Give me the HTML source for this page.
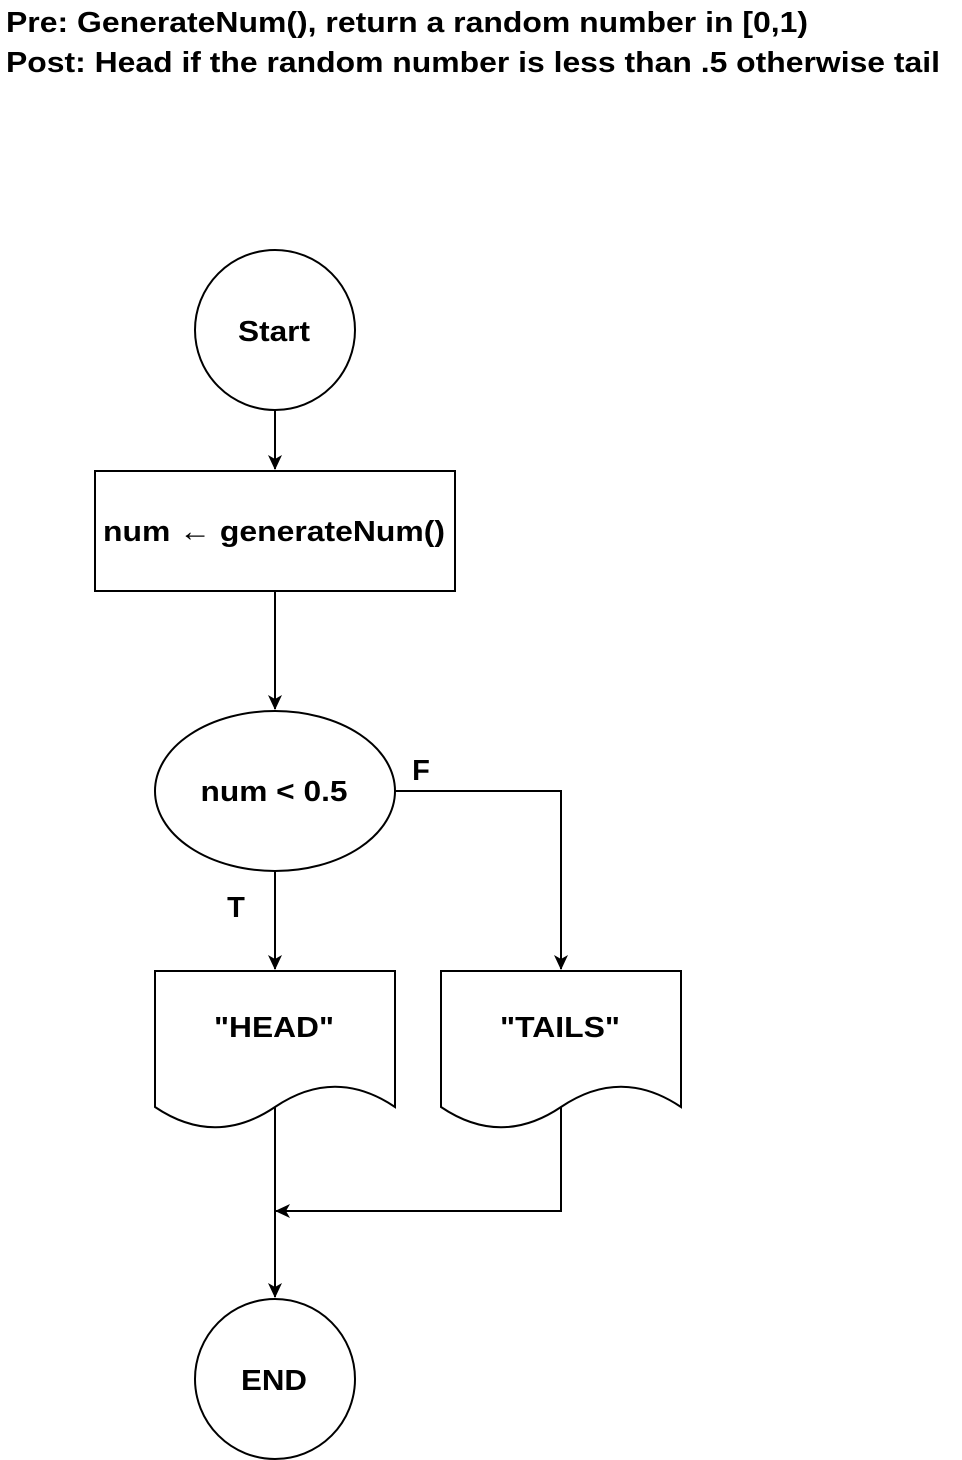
<!DOCTYPE html>
<html><head><meta charset="utf-8"><style>
html,body{margin:0;padding:0;background:#fff;}
svg{display:block;}
text{font-family:"Liberation Sans",Arial,sans-serif;font-weight:bold;fill:#000;}
</style></head><body>
<svg width="962" height="1460" viewBox="0 0 962 1460" xmlns="http://www.w3.org/2000/svg">
<defs><marker id="a" markerWidth="16" markerHeight="16" refX="14" refY="8" orient="auto" markerUnits="userSpaceOnUse"><path d="M0,1 L15,8 L0,15 L4,8 Z" fill="#000"/></marker></defs>
<text x="6" y="32" font-size="29" textLength="802" lengthAdjust="spacingAndGlyphs">Pre: GenerateNum(), return a random number in [0,1)</text>
<text x="6" y="72" font-size="29" textLength="934" lengthAdjust="spacingAndGlyphs">Post: Head if the random number is less than .5 otherwise tail</text>
<g stroke="#000" stroke-width="2" fill="#fff">
<circle cx="275" cy="330" r="80"/>
<rect x="95" y="471" width="360" height="120"/>
<ellipse cx="275" cy="791" rx="120" ry="80"/>
<path d="M155,971 H395 V1107 C355,1080 315,1080 275,1107 C235,1134 195,1134 155,1107 Z"/>
<path d="M441,971 H681 V1107 C641,1080 601,1080 561,1107 C521,1134 481,1134 441,1107 Z"/>
<circle cx="275" cy="1379" r="80"/>
</g>
<g stroke="#000" stroke-width="2" fill="none">
<line x1="275" y1="410" x2="275" y2="469" marker-end="url(#a)"/>
<line x1="275" y1="591" x2="275" y2="709" marker-end="url(#a)"/>
<line x1="275" y1="871" x2="275" y2="969" marker-end="url(#a)"/>
<polyline points="395,791 561,791 561,969" marker-end="url(#a)"/>
<line x1="275" y1="1107" x2="275" y2="1297" marker-end="url(#a)"/>
<polyline points="561,1107 561,1211 276,1211" marker-end="url(#a)"/>
</g>
<g font-size="29" text-anchor="middle">
<text x="274" y="341" textLength="72" lengthAdjust="spacingAndGlyphs">Start</text>
<text x="274" y="541" textLength="342" lengthAdjust="spacingAndGlyphs">num ← generateNum()</text>
<text x="274" y="801" textLength="147" lengthAdjust="spacingAndGlyphs">num &lt; 0.5</text>
<text x="274" y="1037" textLength="120" lengthAdjust="spacingAndGlyphs">"HEAD"</text>
<text x="560" y="1037" textLength="120" lengthAdjust="spacingAndGlyphs">"TAILS"</text>
<text x="274" y="1390" textLength="66" lengthAdjust="spacingAndGlyphs">END</text>
<text x="421" y="780">F</text>
<text x="236" y="917">T</text>
</g>
</svg>
</body></html>
